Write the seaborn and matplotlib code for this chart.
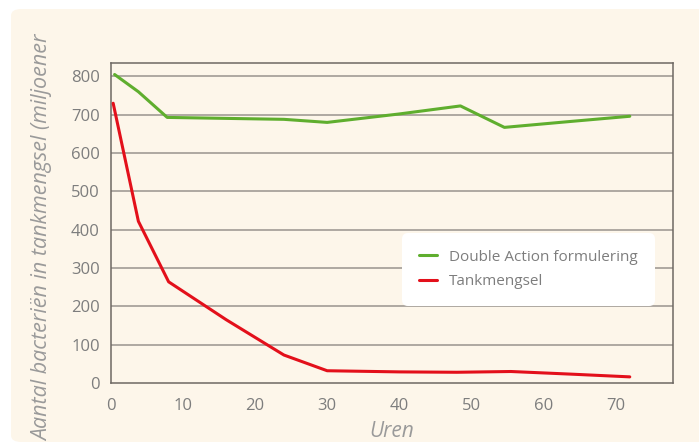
import pandas as pd
import matplotlib
matplotlib.use("Agg")
import matplotlib.pyplot as plt
from matplotlib.patches import FancyBboxPatch
import seaborn as sns

# data
hours_green = [0.5, 3.8, 7.8, 24, 30, 40, 48.5, 54.6, 63.5, 72]
values_green = [805, 760, 693, 688, 680, 702, 723, 667, 682, 696]
hours_red = [0.3, 3.8, 8, 16, 24, 30, 40, 48, 55.5, 64, 72]
values_red = [730, 422, 264, 165, 73, 32, 29, 28, 30, 23, 16]
series_names = ["Double Action formulering", "Tankmengsel"]
y_ticks = [0, 100, 200, 300, 400, 500, 600, 700, 800]
x_ticks = [0, 10, 20, 30, 40, 50, 60, 70]

df = pd.concat([
    pd.DataFrame({"Uren": hours_green, "Aantal": values_green, "serie": series_names[0]}),
    pd.DataFrame({"Uren": hours_red, "Aantal": values_red, "serie": series_names[1]}),
])

sns.set_style("white")
plt.rcParams["font.family"] = ["Open Sans", "DejaVu Sans"]

cream = "#fdf6ea"
grey_text = "#7d7d7d"
spine_col = "#6e6863"

fig = plt.figure(figsize=(6.99, 4.43), dpi=100)
fig.patch.set_facecolor("white")
panel = FancyBboxPatch((11 / 699, 1 / 443), 700 / 699, 433 / 443,
                       boxstyle="round,pad=0,rounding_size=0.015",
                       transform=fig.transFigure, facecolor=cream,
                       edgecolor="none", zorder=-5)
fig.patches.append(panel)

ax = fig.add_axes([111 / 699, 60 / 443, 562 / 699, 320 / 443])
ax.set_facecolor(cream)

sns.lineplot(data=df, x="Uren", y="Aantal", hue="serie",
             palette=["#5fae2e", "#e3101b"], linewidth=2.2, ax=ax,
             estimator=None, sort=False, zorder=3)

ax.set_xlim(0, 78)
ax.set_ylim(0, 835)
ax.set_xticks(x_ticks)
ax.set_xticks([78], minor=True)
ax.set_yticks(y_ticks)
for y in y_ticks[1:]:
    ax.axhline(y, color="#a8a29c", linewidth=1.3, zorder=1)

for side in ["left", "right", "top", "bottom"]:
    ax.spines[side].set_visible(True)
    ax.spines[side].set_color(spine_col)
    ax.spines[side].set_linewidth(1.1)

ax.tick_params(axis="x", which="both", direction="out", length=7, width=1.1,
               color=spine_col, labelcolor=grey_text, labelsize=12, pad=4)
ax.tick_params(axis="y", length=0, labelcolor=grey_text, labelsize=12, pad=8)
ax.set_xlabel("")
ax.set_ylabel("")

fig.text(43 / 699, 2 / 443, "Aantal bacteriën in tankmengsel (miljoener",
         rotation=90, ha="center", va="bottom", fontsize=15.5, style="italic",
         color="#9a9a9a")
fig.text(392 / 699, 6 / 443, "Uren", ha="center", va="baseline", fontsize=15,
         style="italic", color="#9a9a9a")

leg = ax.legend(loc="upper left", bbox_to_anchor=(402 / 699, 1 - 233 / 443),
                bbox_transform=fig.transFigure, borderaxespad=0, frameon=True,
                fancybox=True, facecolor="white", edgecolor="none", framealpha=1,
                fontsize=11, handlelength=1.2, handletextpad=0.8,
                borderpad=1.1, labelspacing=0.6, title=None)
for t in leg.get_texts():
    t.set_color(grey_text)
leg.get_frame().set_boxstyle("round,pad=0,rounding_size=0.4")

fig.savefig("out.png", dpi=100, facecolor="white")
